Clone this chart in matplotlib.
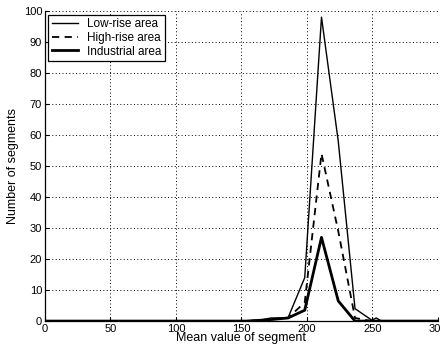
import matplotlib
matplotlib.use("Agg")
import matplotlib.pyplot as plt

plt.rcParams['font.family'] = ['Liberation Sans', 'DejaVu Sans']

x_vals = [0, 12.8, 25.6, 38.4, 51.2, 64, 76.8, 89.6, 102.4, 115.2, 128, 140.8, 153.6,
          166.4, 172.8, 185.6, 198.4, 211.2, 224, 236.8, 249.6, 253, 257, 270, 285, 300]
low_rise = [0, 0, 0, 0, 0, 0, 0, 0, 0, 0, 0, 0, 0, 0.5, 1, 1, 14, 98, 58, 4, 0.3, 1, 0, 0, 0, 0]
high_rise = [0, 0, 0, 0, 0, 0, 0, 0, 0, 0, 0, 0, 0, 0.3, 0.5, 1, 6, 54, 29, 1, 0, 0, 0, 0, 0, 0]
industrial = [0, 0, 0, 0, 0, 0, 0, 0, 0, 0, 0, 0, 0, 0.3, 0.5, 1, 3.5, 27, 6.5, 0, 0, 0, 0, 0, 0, 0]
x_ticks = [0, 50, 100, 150, 200, 250, 300]
y_ticks = [0, 10, 20, 30, 40, 50, 60, 70, 80, 90, 100]

fig = plt.figure(figsize=(4.4, 3.54), dpi=100)
ax = fig.add_axes([0.102, 0.093, 0.893, 0.876])
ax.plot(x_vals, low_rise, color='black', lw=1.0, label='Low-rise area')
ax.plot(x_vals, high_rise, color='black', lw=1.3, ls=(0, (4, 3)), label='High-rise area')
ax.plot(x_vals, industrial, color='black', lw=2.0, label='Industrial area')

ax.set_xlim(0, 300)
ax.set_ylim(0, 100)
ax.set_xticks(x_ticks)
ax.set_yticks(y_ticks)
ax.tick_params(direction='in', length=3, labelsize=8, pad=2, width=0.8)
ax.grid(True, ls=(0, (1, 2.5)), color='black', lw=0.7)
for s in ['top', 'right']:
    ax.spines[s].set_visible(False)
for s in ['left', 'bottom']:
    ax.spines[s].set_linewidth(0.9)
ax.set_xlabel('Mean value of segment', fontsize=9, labelpad=-1)
ax.set_ylabel('Number of segments', fontsize=9, labelpad=3)

leg = ax.legend(loc='upper left', fontsize=8.5, frameon=True, fancybox=False,
                edgecolor='black', framealpha=1, handlelength=2.2,
                borderpad=0.3, labelspacing=0.15, handletextpad=0.8,
                borderaxespad=0.3)
leg.get_frame().set_linewidth(0.9)

fig.savefig('out.png', dpi=100)
